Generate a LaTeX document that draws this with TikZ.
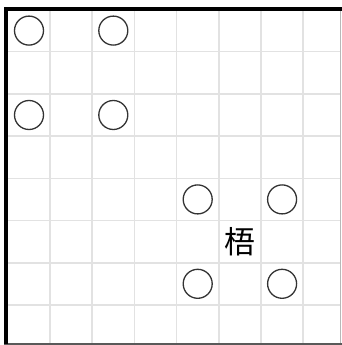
\documentclass[tikz,border=0pt]{standalone}
\usepackage{fontspec}
\newfontfamily\cjk{Noto Sans CJK SC}
\definecolor{gridc}{HTML}{E2E2E2}
\definecolor{ringc}{HTML}{333333}
\tikzset{
  gridline/.style={draw=gridc, line width=1.6pt},
  ring/.style={circle, draw=ringc, line width=1.3pt, minimum size=29pt, inner sep=0pt},
  glyph/.style={font=\cjk\fontsize{31pt}{31pt}\selectfont, text=black, inner sep=0pt}
}
\begin{document}
\begin{tikzpicture}[x=1pt,y=-1pt]
\useasboundingbox (0,0) rectangle (342,345);
\fill[white] (0,0) rectangle (342,345);
% grid lines
\foreach \k in {1,...,7} {
  \draw[gridline] ({7.8+42.2*\k},9) -- ({7.8+42.2*\k},343);
  \draw[gridline] (6,{9.5+42.2*\k}) -- (340,{9.5+42.2*\k});
}
% right and bottom edges
\draw[draw=black!28, line width=1pt] (340.5,9) -- (340.5,343);
\draw[draw=black!65, line width=1.6pt] (4,343.7) -- (342,343.7);
% thick top and left border
\fill[black] (4,7) rectangle (342,11);
\fill[black] (4,7) rectangle (8,344);
% circles
\node[ring] (c1) at (29,30.6) {};
\node[ring] (c2) at (113.3,30.6) {};
\node[ring] (c3) at (29,115) {};
\node[ring] (c4) at (113.3,115) {};
\node[ring] (c5) at (197.7,199.4) {};
\node[ring] (c6) at (282.1,199.4) {};
\node[ring] (c7) at (197.7,283.8) {};
\node[ring] (c8) at (282.1,283.8) {};
% character
\node[glyph] (wu) at (239.5,242) {梧};
\end{tikzpicture}
\end{document}
